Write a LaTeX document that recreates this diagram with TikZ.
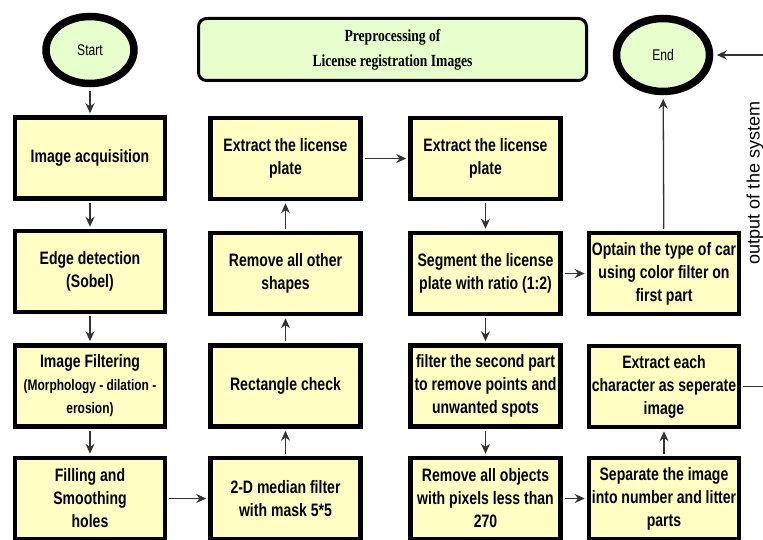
\documentclass[tikz,border=0pt]{standalone}
\usepackage{fontspec}
\setmainfont{Liberation Sans}[FakeStretch=0.78]
\newfontfamily\titlefont{Liberation Serif}[FakeStretch=0.8]
\newfontfamily\sidefont{Liberation Sans}
\usetikzlibrary{arrows.meta,shapes.geometric}
\definecolor{boxfill}{RGB}{255,255,196}
\definecolor{ovalfill}{RGB}{230,255,204}

\begin{document}
\begin{tikzpicture}[x=1pt,y=-1pt,
  stepbox/.style={draw=black,line width=4.5pt,fill=boxfill,minimum width=150pt,minimum height=81pt,
    inner sep=1pt,align=center,font=\fontsize{18}{23}\selectfont\bfseries},
  oval/.style={ellipse,draw=black,line width=7.5pt,fill=ovalfill,inner sep=0pt,font=\fontsize{15.5}{16}\selectfont},
  titlebox/.style={draw=black,line width=3pt,rounded corners=8pt,fill=ovalfill,minimum width=388pt,minimum height=62pt,
    align=center,font=\titlefont\fontsize{17}{25}\selectfont\bfseries},
  arr/.style={-{Stealth[length=10pt,width=9pt]},line width=1.3pt,draw=black!80,shorten >=2pt,shorten <=2pt}]
\useasboundingbox[fill=white] (0,0) rectangle (763,540);

\node[oval,minimum width=88pt,minimum height=67pt] (start) at (90,50) {Start};
\node[oval,minimum width=93pt,minimum height=73pt] (end) at (663,55) {End};
\node[titlebox] (title) at (392.5,49.5) {Preprocessing of\\License registration Images};

% first column (down)
\node[stepbox] (acq) at (90,158) {Image acquisition};
\node[stepbox] (edge) at (90,271.5) {Edge detection\\(Sobel)};
\node[stepbox] (filt) at (90,386) {Image Filtering\\{\fontsize{15.3}{23}\selectfont(Morphology - dilation -}\\{\fontsize{15.3}{23}\selectfont erosion)}};
\node[stepbox] (fill) at (90,498.5) {Filling and\\Smoothing\\holes};

% second column (up)
\node[stepbox] (median) at (285.5,498.5) {2-D median filter\\with mask 5*5};
\node[stepbox] (rect) at (285.5,386) {Rectangle check};
\node[stepbox] (remove) at (285.5,273.5) {Remove all other\\shapes};
\node[stepbox] (plate) at (285.5,158.5) {Extract the license\\plate};

% third column (down)
\node[stepbox] (plate2) at (485.5,158.5) {Extract the license\\plate};
\node[stepbox] (segm) at (485.5,273.5) {Segment the license\\plate with ratio (1:2)};
\node[stepbox] (second) at (485.5,386) {filter the second part\\to remove points and\\unwanted spots};
\node[stepbox] (objects) at (485.5,498.5) {Remove all objects\\with pixels less than\\270};

% fourth column
\node[stepbox] (cartype) at (664,273.5) {Optain the type of car\\using color filter on\\first part};
\node[stepbox] (chars) at (664,386.5) {Extract each\\character as seperate\\image};
\node[stepbox] (split) at (664,498.5) {Separate the image\\into number and litter\\parts};

\node[rotate=90,font=\sidefont\fontsize{18}{20}\selectfont] (outlabel) at (755,183) {output of the system};
\coordinate (rside) at (780,220);

\draw[arr,shorten <=3.5pt] (start) -- (acq);
\draw[arr] (acq) -- (edge);
\draw[arr] (edge) -- (filt);
\draw[arr] (filt) -- (fill);
\draw[arr] (fill) -- (median);
\draw[arr] (median) -- (rect);
\draw[arr] (rect) -- (remove);
\draw[arr] (remove) -- (plate);
\draw[arr] (plate) -- (plate2);
\draw[arr] (plate2) -- (segm);
\draw[arr] (segm) -- (second);
\draw[arr] (second) -- (objects);
\draw[arr] (segm) -- (cartype);
\draw[arr,shorten >=3.5pt] (cartype) -- (end);
\draw[arr] (objects) -- (split);
\draw[arr] (split) -- (chars);
\draw[arr,shorten >=3.5pt] (chars.east) -| (rside) |- (end.east);

\end{tikzpicture}
\end{document}
